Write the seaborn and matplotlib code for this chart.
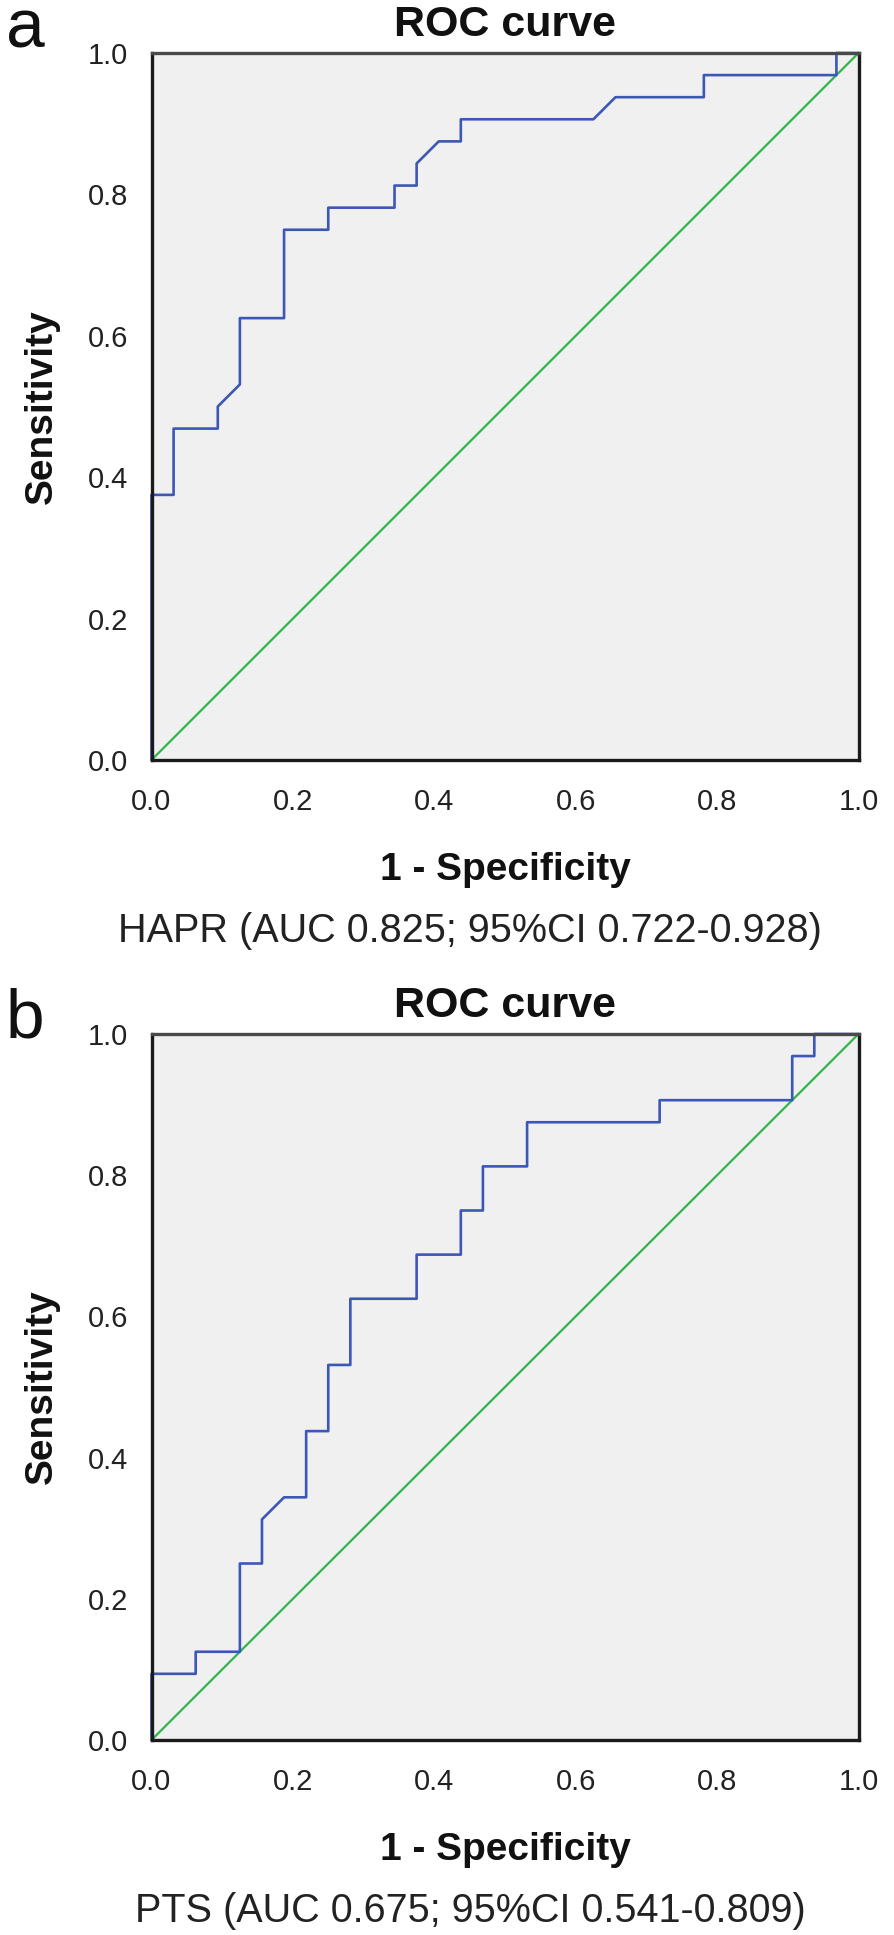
import matplotlib
matplotlib.use("Agg")
import matplotlib.pyplot as plt
import seaborn as sns
import pandas as pd

# ---- data (counts, 32 negatives / 32 positives) ----
N_NEG = 32
N_POS = 32
hapr_fp = [0, 0, 1, 1, 3, 3, 4, 4, 6, 6, 8, 8, 11, 11, 12, 12, 13, 14, 14, 20, 21, 25, 25, 31, 31, 32]
hapr_tp = [0, 12, 12, 15, 15, 16, 17, 20, 20, 24, 24, 25, 25, 26, 26, 27, 28, 28, 29, 29, 30, 30, 31, 31, 32, 32]
pts_fp = [0, 0, 2, 2, 4, 4, 5, 5, 6, 7, 7, 8, 8, 9, 9, 12, 12, 14, 14, 15, 15, 17, 17, 23, 23, 29, 29, 30, 30, 32]
pts_tp = [0, 3, 3, 4, 4, 8, 8, 10, 11, 11, 14, 14, 17, 17, 20, 20, 22, 22, 24, 24, 26, 26, 28, 28, 29, 29, 31, 31, 32, 32]
ref_x = [0.0, 1.0]
ref_y = [0.0, 1.0]
tick_vals = [0.0, 0.2, 0.4, 0.6, 0.8, 1.0]
tick_labels = ["0.0", "0.2", "0.4", "0.6", "0.8", "1.0"]
panel_letters = ["a", "b"]
captions = ["HAPR (AUC 0.825; 95%CI 0.722-0.928)", "PTS (AUC 0.675; 95%CI 0.541-0.809)"]
title_text = "ROC curve"
xlabel_text = "1 - Specificity"
ylabel_text = "Sensitivity"

sns.set_style("white")
plt.rcParams["font.family"] = ["Liberation Sans", "DejaVu Sans"]

W, H = 894, 1935
fig = plt.figure(figsize=(W / 100, H / 100), dpi=100)


def rect(l, t, r, b):
    return [l / W, 1 - b / H, (r - l) / W, (b - t) / H]


BLUE = "#3d57b6"
GREEN = "#2db64a"
BG = "#f0f0f0"

panels = [
    (hapr_fp, hapr_tp, 53, 760, 47),
    (pts_fp, pts_tp, 1034, 1740, 1037),
]

for i, (fp, tp, top, bot, letter_base) in enumerate(panels):
    ax = fig.add_axes(rect(151.5, top, 858.5, bot))
    ax.set_facecolor(BG)
    df = pd.DataFrame({"fpr": [v / N_NEG for v in fp], "tpr": [v / N_POS for v in tp]})
    sns.lineplot(x=ref_x, y=ref_y, color=GREEN, linewidth=1.6, ax=ax)
    sns.lineplot(data=df, x="fpr", y="tpr", sort=False, estimator=None,
                 color=BLUE, linewidth=1.9, ax=ax)
    for ln in ax.lines:
        ln.set_clip_on(False)
    ax.set_xlim(0, 1)
    ax.set_ylim(0, 1)
    ax.set_xticks(tick_vals)
    ax.set_xticklabels(tick_labels)
    ax.set_yticks(tick_vals)
    ax.set_yticklabels(tick_labels)
    ax.set_xlabel("")
    ax.set_ylabel("")
    ax.tick_params(axis="both", direction="out", length=13, width=1.6,
                   colors="black", labelsize=21, labelcolor="#222222")
    ax.tick_params(axis="x", pad=7)
    ax.tick_params(axis="y", pad=4)
    for side, sp in ax.spines.items():
        sp.set_visible(True)
        sp.set_linewidth(2.4)
        sp.set_color("#1a1a1a" if side in ("left", "bottom", "right") else "#4a4a4a")

    # title, labels, caption
    fig.text(505 / W, 1 - (top - 17) / H, title_text, ha="center", va="baseline",
             fontsize=31, fontweight="bold", color="#111111")
    fig.text(505 / W, 1 - (bot + 120) / H, xlabel_text, ha="center", va="baseline",
             fontsize=28, fontweight="bold", color="#111111")
    fig.text(42 / W, 1 - ((top + bot) / 2) / H, ylabel_text, ha="center", va="center",
             rotation=90, fontsize=28, fontweight="bold", color="#111111")
    fig.text(470 / W, 1 - (bot + 182) / H, captions[i], ha="center", va="baseline",
             fontsize=28.5, color="#222222")
    fig.text(6 / W, 1 - letter_base / H, panel_letters[i], ha="left", va="baseline",
             fontsize=50, color="#111111")

fig.savefig("out.png", dpi=100, facecolor="white")
